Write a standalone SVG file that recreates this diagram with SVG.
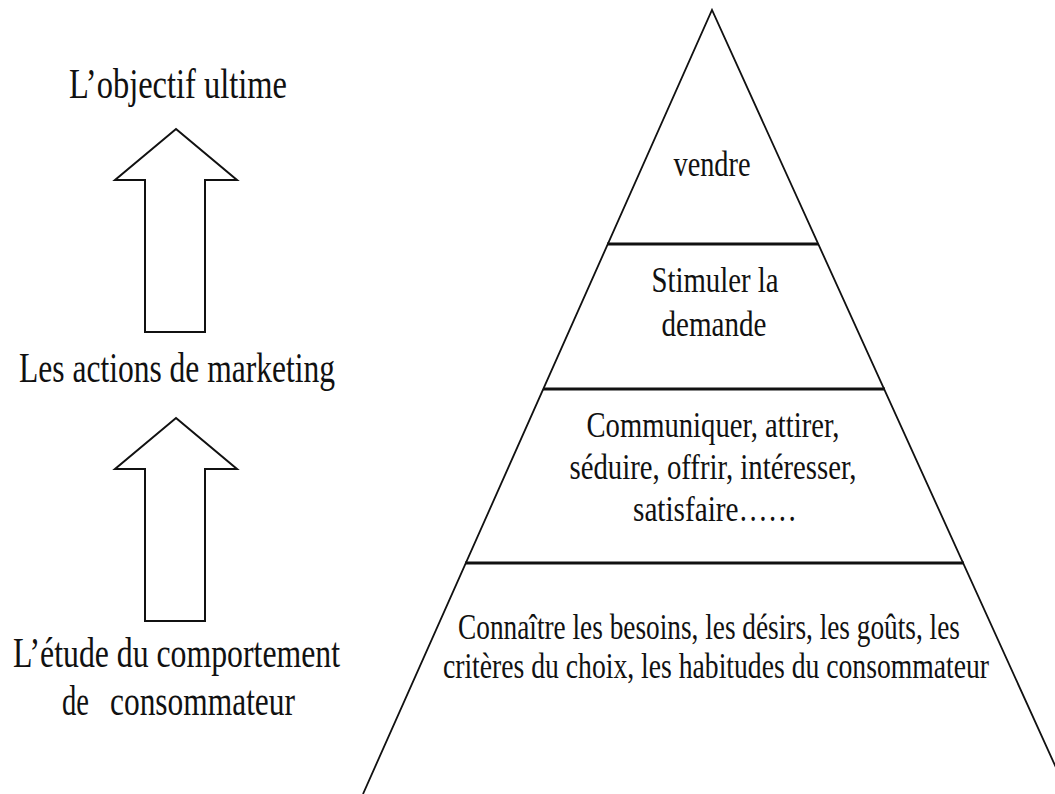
<svg xmlns="http://www.w3.org/2000/svg" width="1055" height="794" viewBox="0 0 1055 794">
<style>
  text { font-family: "Liberation Serif", "Times New Roman", serif; fill: #111; }
  .big { font-size: 42px; }
  .pt { font-size: 35px; text-anchor: middle; }
  .edge { fill: none; stroke: #111; stroke-width: 1.8; }
  .tier { stroke: #111; stroke-width: 3; }
  .arrow { fill: #fff; stroke: #111; stroke-width: 2; stroke-linejoin: miter; }
</style>
<rect width="1055" height="794" fill="#fff"/>

<g id="pyramid">
  <path class="edge" d="M363,794 L712,10 L1068,794"/>
  <line class="tier" x1="607" y1="244" x2="818" y2="244"/>
  <line class="tier" x1="543" y1="389" x2="885" y2="389"/>
  <line class="tier" x1="465" y1="563" x2="964" y2="563"/>
</g>

<g id="tier-vendre">
  <text class="pt" transform="translate(712,176) scale(0.82,1)" textLength="94" lengthAdjust="spacingAndGlyphs">vendre</text>
</g>
<g id="tier-stimuler">
  <text class="pt" transform="translate(715,292) scale(0.82,1)" textLength="155" lengthAdjust="spacingAndGlyphs">Stimuler la</text>
  <text class="pt" transform="translate(714,336) scale(0.82,1)" textLength="128" lengthAdjust="spacingAndGlyphs">demande</text>
</g>
<g id="tier-communiquer">
  <text class="pt" transform="translate(713,437) scale(0.82,1)" textLength="308.5" lengthAdjust="spacingAndGlyphs">Communiquer, attirer,</text>
  <text class="pt" transform="translate(713,479) scale(0.82,1)" textLength="350" lengthAdjust="spacingAndGlyphs">séduire, offrir, intéresser,</text>
  <text class="pt" transform="translate(715,521) scale(0.82,1)" textLength="200" lengthAdjust="spacingAndGlyphs">satisfaire……</text>
</g>
<g id="tier-connaitre">
  <text class="pt" transform="translate(709,639) scale(0.82,1)" textLength="612" lengthAdjust="spacingAndGlyphs">Connaître les besoins, les désirs, les goûts, les</text>
  <text class="pt" transform="translate(716,678) scale(0.82,1)" textLength="666" lengthAdjust="spacingAndGlyphs">critères du choix, les habitudes du consommateur</text>
</g>

<g id="label-objectif">
  <text class="big" transform="translate(69,98) scale(0.8,1)" textLength="272.5" lengthAdjust="spacingAndGlyphs">L’objectif ultime</text>
</g>
<g id="label-actions">
  <text class="big" transform="translate(19,382) scale(0.8,1)" textLength="395" lengthAdjust="spacingAndGlyphs">Les actions de marketing</text>
</g>
<g id="label-etude">
  <text class="big" transform="translate(13,667) scale(0.8,1)" textLength="408.75" lengthAdjust="spacingAndGlyphs">L’étude du comportement</text>
  <text class="big" transform="translate(62,715) scale(0.8,1)" textLength="33.75" lengthAdjust="spacingAndGlyphs">de</text>
  <text class="big" transform="translate(110,715) scale(0.8,1)" textLength="231.25" lengthAdjust="spacingAndGlyphs">consommateur</text>
</g>

<g id="connectors">
  <polygon class="arrow" points="176,129 237,180 205,180 205,332 145,332 145,180 115,180"/>
  <polygon class="arrow" points="176,418 237,469 205,469 205,621 145,621 145,469 115,469"/>
</g>
</svg>
